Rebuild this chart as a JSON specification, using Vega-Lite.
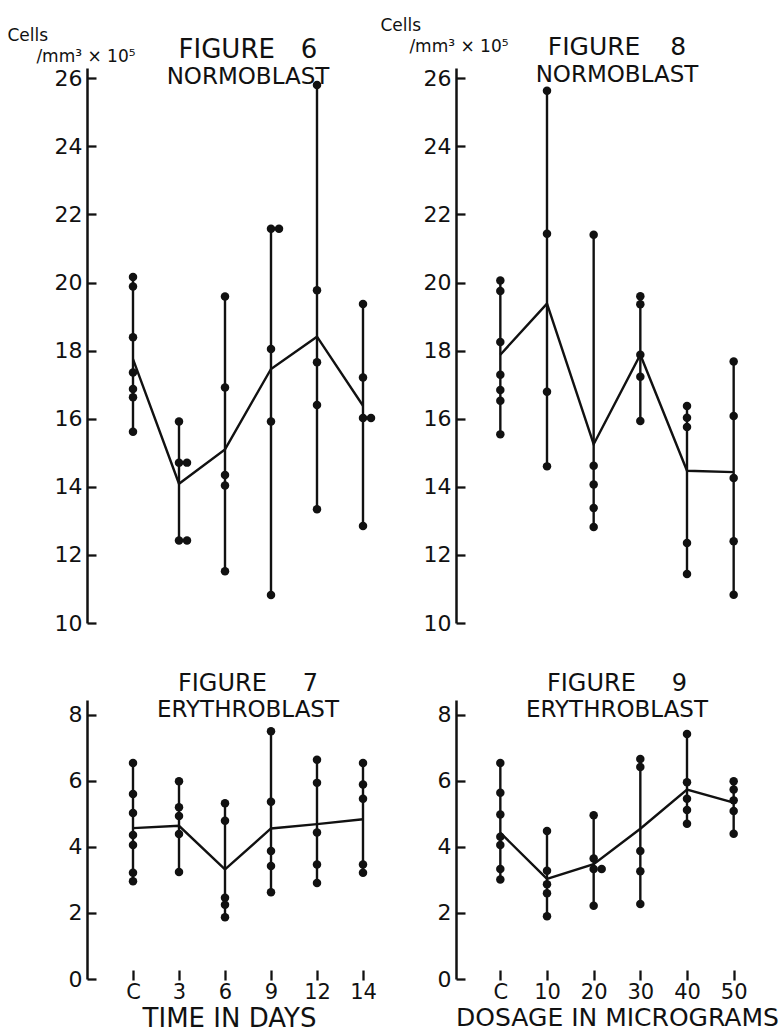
{
  "$schema": "https://vega.github.io/schema/vega-lite/v6.json",
  "background": "white",
  "padding": {"left": 7, "top": 16, "right": 0, "bottom": 0},
  "config": {
    "view": {"stroke": null},
    "font": "DejaVu Sans",
    "axis": {
      "domainColor": "#111",
      "domainWidth": 2.5,
      "tickColor": "#111",
      "tickWidth": 2.3,
      "labelColor": "#111",
      "labelFont": "DejaVu Sans",
      "labelFontSize": 22,
      "labelFlush": false,
      "labelOverlap": false,
      "grid": false,
      "titleColor": "#111",
      "titleFont": "DejaVu Sans",
      "titleFontWeight": "normal"
    },
    "title": {
      "color": "#111",
      "subtitleColor": "#111",
      "font": "DejaVu Sans",
      "subtitleFont": "DejaVu Sans",
      "fontWeight": "normal",
      "anchor": "middle"
    }
  },
  "datasets": {
    "fig6": [
      {"t": "C", "v": 20.16, "k": 1}, {"t": "C", "v": 19.88, "k": 1}, {"t": "C", "v": 18.39, "k": 1},
      {"t": "C", "v": 17.36, "k": 1}, {"t": "C", "v": 16.87, "k": 1}, {"t": "C", "v": 16.63, "k": 1},
      {"t": "C", "v": 15.62, "k": 1},
      {"t": "3", "v": 15.92, "k": 1}, {"t": "3", "v": 14.71, "k": 2}, {"t": "3", "v": 12.42, "k": 2},
      {"t": "6", "v": 19.59, "k": 1}, {"t": "6", "v": 16.92, "k": 1}, {"t": "6", "v": 14.35, "k": 1},
      {"t": "6", "v": 14.04, "k": 1}, {"t": "6", "v": 11.52, "k": 1},
      {"t": "9", "v": 21.58, "k": 2}, {"t": "9", "v": 18.05, "k": 1}, {"t": "9", "v": 15.92, "k": 1},
      {"t": "9", "v": 10.82, "k": 1},
      {"t": "12", "v": 25.8, "k": 1}, {"t": "12", "v": 19.77, "k": 1}, {"t": "12", "v": 17.66, "k": 1},
      {"t": "12", "v": 16.4, "k": 1}, {"t": "12", "v": 13.34, "k": 1},
      {"t": "14", "v": 19.37, "k": 1}, {"t": "14", "v": 17.21, "k": 1}, {"t": "14", "v": 16.02, "k": 2},
      {"t": "14", "v": 12.85, "k": 1}
    ],
    "fig6mean": [
      {"t": "C", "v": 17.75}, {"t": "3", "v": 14.09}, {"t": "6", "v": 15.1},
      {"t": "9", "v": 17.46}, {"t": "12", "v": 18.41}, {"t": "14", "v": 16.38}
    ],
    "fig8": [
      {"t": "C", "v": 20.06, "k": 1}, {"t": "C", "v": 19.75, "k": 1}, {"t": "C", "v": 18.25, "k": 1},
      {"t": "C", "v": 17.29, "k": 1}, {"t": "C", "v": 16.84, "k": 1}, {"t": "C", "v": 16.53, "k": 1},
      {"t": "C", "v": 15.54, "k": 1},
      {"t": "10", "v": 25.63, "k": 1}, {"t": "10", "v": 21.43, "k": 1}, {"t": "10", "v": 16.79, "k": 1},
      {"t": "10", "v": 14.6, "k": 1},
      {"t": "20", "v": 21.4, "k": 1}, {"t": "20", "v": 14.62, "k": 1}, {"t": "20", "v": 14.07, "k": 1},
      {"t": "20", "v": 13.38, "k": 1}, {"t": "20", "v": 12.82, "k": 1},
      {"t": "30", "v": 19.6, "k": 1}, {"t": "30", "v": 19.36, "k": 1}, {"t": "30", "v": 17.88, "k": 1},
      {"t": "30", "v": 17.23, "k": 1}, {"t": "30", "v": 15.93, "k": 1},
      {"t": "40", "v": 16.37, "k": 1}, {"t": "40", "v": 16.03, "k": 1}, {"t": "40", "v": 15.76, "k": 1},
      {"t": "40", "v": 12.35, "k": 1}, {"t": "40", "v": 11.44, "k": 1},
      {"t": "50", "v": 17.68, "k": 1}, {"t": "50", "v": 16.08, "k": 1}, {"t": "50", "v": 14.26, "k": 1},
      {"t": "50", "v": 12.4, "k": 1}, {"t": "50", "v": 10.83, "k": 1}
    ],
    "fig8mean": [
      {"t": "C", "v": 17.88}, {"t": "10", "v": 19.38}, {"t": "20", "v": 15.25},
      {"t": "30", "v": 17.88}, {"t": "40", "v": 14.47}, {"t": "50", "v": 14.43}
    ],
    "fig7": [
      {"t": "C", "v": 6.54, "k": 1}, {"t": "C", "v": 5.6, "k": 1}, {"t": "C", "v": 5.03, "k": 1},
      {"t": "C", "v": 4.36, "k": 1}, {"t": "C", "v": 4.06, "k": 1}, {"t": "C", "v": 3.22, "k": 1},
      {"t": "C", "v": 2.96, "k": 1},
      {"t": "3", "v": 5.99, "k": 1}, {"t": "3", "v": 5.2, "k": 1}, {"t": "3", "v": 4.94, "k": 1},
      {"t": "3", "v": 4.39, "k": 1}, {"t": "3", "v": 3.24, "k": 1},
      {"t": "6", "v": 5.32, "k": 1}, {"t": "6", "v": 4.79, "k": 1}, {"t": "6", "v": 2.46, "k": 1},
      {"t": "6", "v": 2.25, "k": 1}, {"t": "6", "v": 1.87, "k": 1},
      {"t": "9", "v": 7.5, "k": 1}, {"t": "9", "v": 5.37, "k": 1}, {"t": "9", "v": 3.88, "k": 1},
      {"t": "9", "v": 3.42, "k": 1}, {"t": "9", "v": 2.63, "k": 1},
      {"t": "12", "v": 6.64, "k": 1}, {"t": "12", "v": 5.94, "k": 1}, {"t": "12", "v": 4.44, "k": 1},
      {"t": "12", "v": 3.47, "k": 1}, {"t": "12", "v": 2.91, "k": 1},
      {"t": "14", "v": 6.54, "k": 1}, {"t": "14", "v": 5.89, "k": 1}, {"t": "14", "v": 5.46, "k": 1},
      {"t": "14", "v": 3.47, "k": 1}, {"t": "14", "v": 3.22, "k": 1}
    ],
    "fig7mean": [
      {"t": "C", "v": 4.57}, {"t": "3", "v": 4.64}, {"t": "6", "v": 3.32},
      {"t": "9", "v": 4.56}, {"t": "12", "v": 4.69}, {"t": "14", "v": 4.84}
    ],
    "fig9": [
      {"t": "C", "v": 6.54, "k": 1}, {"t": "C", "v": 5.64, "k": 1}, {"t": "C", "v": 4.98, "k": 1},
      {"t": "C", "v": 4.31, "k": 1}, {"t": "C", "v": 4.06, "k": 1}, {"t": "C", "v": 3.33, "k": 1},
      {"t": "C", "v": 3.01, "k": 1},
      {"t": "10", "v": 4.48, "k": 1}, {"t": "10", "v": 3.28, "k": 1}, {"t": "10", "v": 2.87, "k": 1},
      {"t": "10", "v": 2.6, "k": 1}, {"t": "10", "v": 1.9, "k": 1},
      {"t": "20", "v": 4.96, "k": 1}, {"t": "20", "v": 3.65, "k": 1}, {"t": "20", "v": 3.33, "k": 2},
      {"t": "20", "v": 2.22, "k": 1},
      {"t": "30", "v": 6.66, "k": 1}, {"t": "30", "v": 6.42, "k": 1}, {"t": "30", "v": 3.88, "k": 1},
      {"t": "30", "v": 3.26, "k": 1}, {"t": "30", "v": 2.27, "k": 1},
      {"t": "40", "v": 7.42, "k": 1}, {"t": "40", "v": 5.96, "k": 1}, {"t": "40", "v": 5.46, "k": 1},
      {"t": "40", "v": 5.12, "k": 1}, {"t": "40", "v": 4.7, "k": 1},
      {"t": "50", "v": 5.99, "k": 1}, {"t": "50", "v": 5.74, "k": 1}, {"t": "50", "v": 5.41, "k": 1},
      {"t": "50", "v": 5.09, "k": 1}, {"t": "50", "v": 4.4, "k": 1}
    ],
    "fig9mean": [
      {"t": "C", "v": 4.43}, {"t": "10", "v": 3.03}, {"t": "20", "v": 3.48},
      {"t": "30", "v": 4.55}, {"t": "40", "v": 5.74}, {"t": "50", "v": 5.34}
    ]
  },
  "columns": 2,
  "spacing": {"row": 77, "column": 47},
  "bounds": "flush",
  "concat": [
    {
      "width": 322,
      "height": 555,
      "title": {"text": "FIGURE\u20036", "subtitle": "NORMOBLAST", "fontSize": 26, "subtitleFontSize": 23, "subtitlePadding": 3, "offset": -63},
      "encoding": {
        "x": {"field": "t", "type": "ordinal", "sort": ["C", "3", "6", "9", "12", "14"], "scale": {"type": "point", "padding": 1}, "axis": null},
        "y": {
          "field": "v", "type": "quantitative",
          "title": ["Cells", "\u200b\u2003\u2002\u2009/mm\u00b3 \u00d7 10\u2075"],
          "scale": {"domain": [10, 26.3], "nice": false, "zero": false},
          "axis": {
            "values": [10, 12, 14, 16, 18, 20, 22, 24, 26],
            "tickSize": -9, "labelPadding": 14,
            "titleAngle": 0, "titleAlign": "left", "titleBaseline": "alphabetic",
            "titleX": -80, "titleY": -28, "titleFontSize": 17, "titleLineHeight": 21
          }
        }
      },
      "layer": [
        {
          "data": {"name": "fig6"},
          "mark": {"type": "rule", "strokeWidth": 2.4, "color": "#111"},
          "encoding": {
            "y": {"aggregate": "min", "field": "v", "type": "quantitative", "title": ["Cells", "\u200b\u2003\u2002\u2009/mm\u00b3 \u00d7 10\u2075"]},
            "y2": {"aggregate": "max", "field": "v"}
          }
        },
        {"data": {"name": "fig6"}, "mark": {"type": "point", "filled": true, "size": 72, "opacity": 1, "color": "#111"}},
        {"data": {"name": "fig6"}, "transform": [{"filter": "datum.k > 1"}], "mark": {"type": "point", "filled": true, "size": 72, "opacity": 1, "color": "#111", "xOffset": 8}},
        {"data": {"name": "fig6mean"}, "mark": {"type": "line", "strokeWidth": 2.4, "color": "#111"}}
      ]
    },
    {
      "width": 322,
      "height": 555,
      "title": {"text": "FIGURE\u2003\u20098", "subtitle": "NORMOBLAST", "fontSize": 25, "subtitleFontSize": 23, "subtitlePadding": 4, "offset": -71},
      "encoding": {
        "x": {"field": "t", "type": "ordinal", "sort": ["C", "10", "20", "30", "40", "50"], "scale": {"type": "point", "padding": 0.95}, "axis": null},
        "y": {
          "field": "v", "type": "quantitative",
          "title": ["Cells", "\u200b\u2003\u2002\u2009/mm\u00b3 \u00d7 10\u2075"],
          "scale": {"domain": [10, 26.3], "nice": false, "zero": false},
          "axis": {
            "values": [10, 12, 14, 16, 18, 20, 22, 24, 26],
            "tickSize": -9, "labelPadding": 14,
            "titleAngle": 0, "titleAlign": "left", "titleBaseline": "alphabetic",
            "titleX": -76, "titleY": -38, "titleFontSize": 17, "titleLineHeight": 21
          }
        }
      },
      "layer": [
        {
          "data": {"name": "fig8"},
          "mark": {"type": "rule", "strokeWidth": 2.4, "color": "#111"},
          "encoding": {
            "y": {"aggregate": "min", "field": "v", "type": "quantitative", "title": ["Cells", "\u200b\u2003\u2002\u2009/mm\u00b3 \u00d7 10\u2075"]},
            "y2": {"aggregate": "max", "field": "v"}
          }
        },
        {"data": {"name": "fig8"}, "mark": {"type": "point", "filled": true, "size": 72, "opacity": 1, "color": "#111"}},
        {"data": {"name": "fig8mean"}, "mark": {"type": "line", "strokeWidth": 2.4, "color": "#111"}}
      ]
    },
    {
      "width": 322,
      "height": 279,
      "title": {"text": "FIGURE\u2003\u20027", "subtitle": "ERYTHROBLAST", "fontSize": 24, "subtitleFontSize": 23, "subtitlePadding": 3, "offset": -22},
      "encoding": {
        "x": {
          "field": "t", "type": "ordinal", "sort": ["C", "3", "6", "9", "12", "14"],
          "scale": {"type": "point", "padding": 1},
          "axis": {
            "title": "TIME IN DAYS", "domain": false, "tickSize": 10, "offset": -9,
            "labelAngle": 0, "labelPadding": 1, "labelFontSize": 21,
            "titleFontSize": 26, "titlePadding": 3, "titleX": 142
          }
        },
        "y": {
          "field": "v", "type": "quantitative", "title": null,
          "scale": {"domain": [0, 8.45], "nice": false, "zero": true},
          "axis": {"values": [0, 2, 4, 6, 8], "tickSize": -9, "labelPadding": 14}
        }
      },
      "layer": [
        {
          "data": {"name": "fig7"},
          "mark": {"type": "rule", "strokeWidth": 2.4, "color": "#111"},
          "encoding": {
            "y": {"aggregate": "min", "field": "v", "type": "quantitative", "title": null},
            "y2": {"aggregate": "max", "field": "v"}
          }
        },
        {"data": {"name": "fig7"}, "mark": {"type": "point", "filled": true, "size": 72, "opacity": 1, "color": "#111"}},
        {"data": {"name": "fig7mean"}, "mark": {"type": "line", "strokeWidth": 2.4, "color": "#111"}}
      ]
    },
    {
      "width": 322,
      "height": 279,
      "title": {"text": "FIGURE\u2003\u20029", "subtitle": "ERYTHROBLAST", "fontSize": 24, "subtitleFontSize": 23, "subtitlePadding": 3, "offset": -22},
      "encoding": {
        "x": {
          "field": "t", "type": "ordinal", "sort": ["C", "10", "20", "30", "40", "50"],
          "scale": {"type": "point", "padding": 0.95},
          "axis": {
            "title": "DOSAGE IN MICROGRAMS", "domain": false, "tickSize": 10, "offset": -9,
            "labelAngle": 0, "labelPadding": 1, "labelFontSize": 21,
            "titleFontSize": 25, "titlePadding": 3
          }
        },
        "y": {
          "field": "v", "type": "quantitative", "title": null,
          "scale": {"domain": [0, 8.45], "nice": false, "zero": true},
          "axis": {"values": [0, 2, 4, 6, 8], "tickSize": -9, "labelPadding": 14}
        }
      },
      "layer": [
        {
          "data": {"name": "fig9"},
          "mark": {"type": "rule", "strokeWidth": 2.4, "color": "#111"},
          "encoding": {
            "y": {"aggregate": "min", "field": "v", "type": "quantitative", "title": null},
            "y2": {"aggregate": "max", "field": "v"}
          }
        },
        {"data": {"name": "fig9"}, "mark": {"type": "point", "filled": true, "size": 72, "opacity": 1, "color": "#111"}},
        {"data": {"name": "fig9"}, "transform": [{"filter": "datum.k > 1"}], "mark": {"type": "point", "filled": true, "size": 72, "opacity": 1, "color": "#111", "xOffset": 8}},
        {"data": {"name": "fig9mean"}, "mark": {"type": "line", "strokeWidth": 2.4, "color": "#111"}}
      ]
    }
  ]
}
